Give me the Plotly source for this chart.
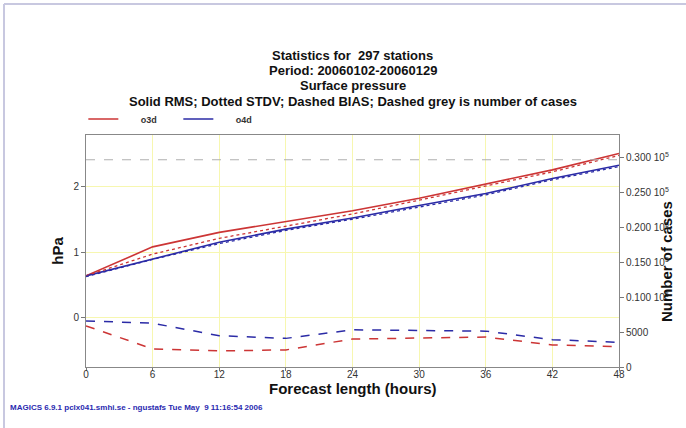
import plotly.graph_objects as go

hours = [0, 6, 12, 18, 24, 30, 36, 42, 48]

o3d_rms = [0.64, 1.08, 1.30, 1.47, 1.63, 1.82, 2.03, 2.25, 2.50]
o3d_stdv = [0.64, 0.97, 1.21, 1.40, 1.58, 1.79, 2.00, 2.22, 2.47]
o3d_bias = [-0.12, -0.47, -0.50, -0.485, -0.32, -0.31, -0.29, -0.41, -0.435]

o4d_rms = [0.64, 0.90, 1.15, 1.35, 1.52, 1.71, 1.89, 2.12, 2.32]
o4d_stdv = [0.63, 0.89, 1.13, 1.33, 1.50, 1.69, 1.87, 2.10, 2.30]
o4d_bias = [-0.045, -0.08, -0.27, -0.31, -0.18, -0.19, -0.20, -0.33, -0.37]

n_cases = [29700, 29700, 29700, 29700, 29700, 29700, 29700, 29700, 29700]

right_tickvals = [0, 5000, 10000, 15000, 20000, 25000, 30000]
right_ticktext = ["0", "5000", "0.100 10<sup>5</sup>", "0.150 10<sup>5</sup>",
                  "0.200 10<sup>5</sup>", "0.250 10<sup>5</sup>", "0.300 10<sup>5</sup>"]

title_lines = ["Statistics for  297 stations", "Period: 20060102-20060129",
               "Surface pressure",
               "Solid RMS; Dotted STDV; Dashed BIAS; Dashed grey is number of cases"]

RED = "#cc3535"
BLUE = "#2b2ba6"
FONT = "Liberation Sans"
PAD = "&nbsp;" * 7

fig = go.Figure()
fig.add_trace(go.Scatter(x=hours, y=n_cases, yaxis="y2", mode="lines",
                         line=dict(color="#b0b0b0", width=1.2, dash="dash"),
                         showlegend=False, hoverinfo="skip"))
fig.add_trace(go.Scatter(x=hours, y=o3d_rms, mode="lines", name=PAD + "<b>o3d</b>",
                         line=dict(color=RED, width=1.6)))
fig.add_trace(go.Scatter(x=hours, y=o4d_rms, mode="lines", name=PAD + "<b>o4d</b>",
                         line=dict(color=BLUE, width=1.6)))
fig.add_trace(go.Scatter(x=hours, y=o3d_stdv, mode="lines", showlegend=False,
                         line=dict(color=RED, width=1.3, dash="dot")))
fig.add_trace(go.Scatter(x=hours, y=o4d_stdv, mode="lines", showlegend=False,
                         line=dict(color=BLUE, width=1.3, dash="dot")))
fig.add_trace(go.Scatter(x=hours, y=o3d_bias, mode="lines", showlegend=False,
                         line=dict(color=RED, width=1.5, dash="dash")))
fig.add_trace(go.Scatter(x=hours, y=o4d_bias, mode="lines", showlegend=False,
                         line=dict(color=BLUE, width=1.5, dash="dash")))

annotations = []
for i, t in enumerate(title_lines):
    annotations.append(dict(text="<b>%s</b>" % t, xref="paper", yref="paper",
                            x=0.5, y=(367 - (55 + 15.5 * i)) / 232, xanchor="center",
                            yanchor="middle", showarrow=False,
                            font=dict(family=FONT, size=13, color="#111")))
annotations.append(dict(text="<b>Number of cases</b>", xref="paper", yref="paper",
                        x=(666 - 86) / 533, y=(367 - 262) / 232, textangle=-90,
                        xanchor="center", yanchor="middle", showarrow=False,
                        font=dict(family=FONT, size=15, color="#111")))
annotations.append(dict(text="<b>Forecast length (hours)</b>", xref="paper", yref="paper",
                        x=0.5, y=(367 - 388) / 232, xanchor="center", yanchor="middle",
                        showarrow=False, font=dict(family=FONT, size=15, color="#111")))
annotations.append(dict(text="<b>MAGICS 6.9.1 pclx041.smhi.se - ngustafs Tue May  9 11:16:54 2006</b>",
                        xref="paper", yref="paper", x=(8 - 86) / 533, y=(367 - 407) / 232,
                        xanchor="left", yanchor="middle", showarrow=False,
                        font=dict(family=FONT, size=8, color="#2a2ab0")))

shapes = [
    dict(type="line", xref="paper", yref="paper", x0=(4 - 86) / 533, x1=(686 - 86) / 533,
         y0=(367 - 4) / 232, y1=(367 - 4) / 232, line=dict(color="#c8c8e0", width=2)),
    dict(type="line", xref="paper", yref="paper", x0=(4 - 86) / 533, x1=(4 - 86) / 533,
         y0=(367 - 4) / 232, y1=(367 - 430) / 232, line=dict(color="#c8c8e0", width=2)),
]

fig.update_layout(
    width=686, height=428,
    margin=dict(l=86, r=67, t=135, b=61),
    paper_bgcolor="white", plot_bgcolor="white",
    font=dict(family=FONT, size=10, color="#333"),
    showlegend=True,
    legend=dict(orientation="h", x=-0.005, y=(367 - 119) / 232, xanchor="left",
                yanchor="middle", font=dict(family=FONT, size=9, color="#333"),
                entrywidth=50, entrywidthmode="pixels", bgcolor="rgba(0,0,0,0)"),
    xaxis=dict(range=[0, 48], tickvals=hours, ticks="outside", ticklen=3,
               tickcolor="#777", showgrid=True, gridcolor="#f7f7b0", gridwidth=1,
               showline=True, linecolor="#888", linewidth=1, mirror=True,
               zeroline=False, tickfont=dict(size=10, color="#333"),
               ticklabelstandoff=-5),
    yaxis=dict(range=[-0.745, 2.78], tickvals=[0, 1, 2], ticks="outside", ticklen=4,
               tickcolor="#777", showgrid=True, gridcolor="#f7f7b0", gridwidth=1,
               showline=True, linecolor="#888", linewidth=1, zeroline=False,
               tickfont=dict(size=10, color="#333"),
               title=dict(text="<b>hPa</b>", standoff=6,
                          font=dict(family=FONT, size=15, color="#111"))),
    yaxis2=dict(range=[0, 33250], overlaying="y", side="right", anchor="x",
                tickvals=right_tickvals, ticktext=right_ticktext, ticks="outside",
                ticklen=4, tickcolor="#777", showgrid=False, zeroline=False,
                showline=True, linecolor="#888", linewidth=1,
                tickfont=dict(size=10, color="#333")),
    annotations=annotations,
    shapes=shapes,
)

fig.write_html("out.html", config={"displayModeBar": False},
               post_script="document.body.style.margin='0';document.body.style.overflow='hidden';")
